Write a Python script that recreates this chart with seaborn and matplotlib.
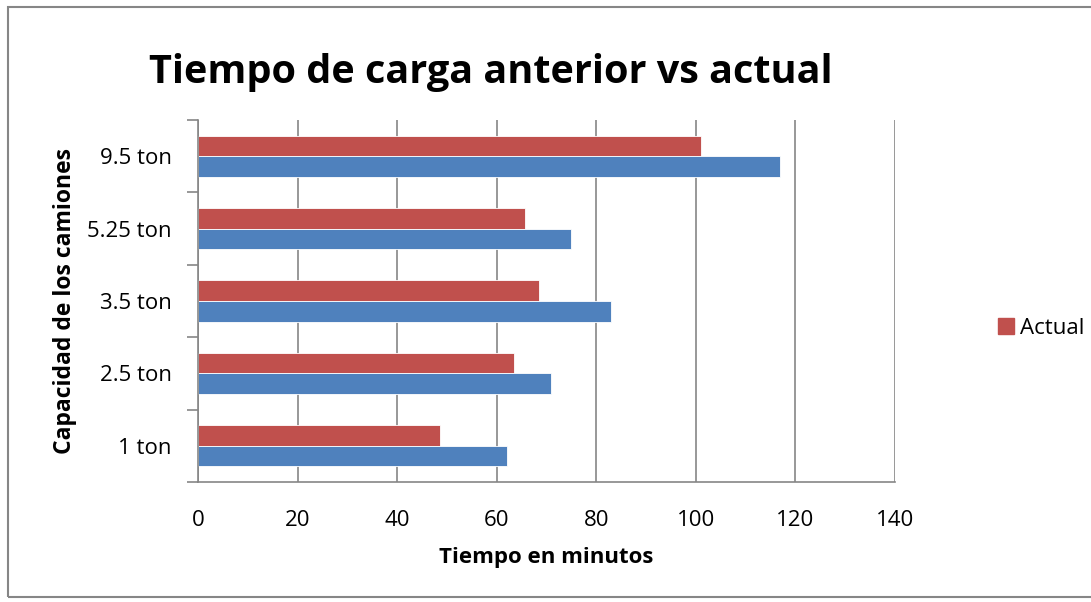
import matplotlib
matplotlib.use("Agg")
import matplotlib.pyplot as plt
import matplotlib.patches as mpatches
import seaborn as sns
import pandas as pd

# Data
capacidades = ["9.5 ton", "5.25 ton", "3.5 ton", "2.5 ton", "1 ton"]
tiempo_actual = [101, 65.6, 68.5, 63.4, 48.6]
tiempo_anterior = [117, 75, 83, 71, 62]
series = ["Actual", "Anterior"]
colores = {"Actual": "#C0504D", "Anterior": "#4F81BD"}
x_ticks = [0, 20, 40, 60, 80, 100, 120, 140]

df = pd.DataFrame({
    "Capacidad": capacidades * 2,
    "Tiempo": tiempo_actual + tiempo_anterior,
    "Serie": [series[0]] * len(capacidades) + [series[1]] * len(capacidades),
})

sns.set_theme(style="white")
plt.rcParams["font.family"] = ["Open Sans", "DejaVu Sans"]
plt.rcParams["text.color"] = "black"
plt.rcParams["axes.labelcolor"] = "black"
plt.rcParams["xtick.color"] = "black"
plt.rcParams["ytick.color"] = "black"

W, H = 1091, 602
fig = plt.figure(figsize=(W / 100, H / 100), dpi=100)
ax = fig.add_axes([198 / W, 1 - 482 / H, (895 - 198) / W, (482 - 120) / H])

sns.barplot(data=df, y="Capacidad", x="Tiempo", hue="Serie", order=capacidades,
            hue_order=series, palette=colores, orient="h", width=0.57,
            gap=0, ax=ax, legend=False, edgecolor="white", linewidth=0.6,
            saturation=1)

ax.set_xlim(0, 140)
ax.set_ylim(len(capacidades) - 0.5, -0.5)
ax.set_xticks(x_ticks)
ax.set_xticklabels([str(t) for t in x_ticks], fontsize=16)
ax.tick_params(axis="x", which="major", length=6, width=1.2, color="#868686",
               labelcolor="black", direction="out", pad=14)

# Category labels at centers, tick marks at category boundaries
ax.set_yticks([i for i in range(len(capacidades))])
ax.set_yticklabels(capacidades, fontsize=16)
ax.tick_params(axis="y", which="major", length=0, pad=19, labelcolor="black")
ax.set_yticks([i - 0.5 for i in range(len(capacidades) + 1)], minor=True)
ax.tick_params(axis="y", which="minor", length=8, width=1.2, color="#868686",
               direction="out", left=True)

ax.grid(axis="x", color="#868686", linewidth=1.2)
ax.grid(axis="y", visible=False)
ax.set_axisbelow(True)
for side in ["top", "right"]:
    ax.spines[side].set_visible(False)
for side in ["left", "bottom"]:
    ax.spines[side].set_color("#868686")
    ax.spines[side].set_linewidth(1.2)

ax.set_xlabel("Tiempo en minutos", fontsize=16, fontweight="bold", labelpad=12)
ax.set_ylabel("Capacidad de los camiones", fontsize=16.5, fontweight="bold",
              labelpad=7)

fig.text(491 / W, 1 - 72 / H, "Tiempo de carga anterior vs actual",
         fontsize=28.5, fontweight="bold", ha="center", va="center")

# Legend with the "Actual" entry
handle = mpatches.Patch(color=colores["Actual"], label="Actual")
fig.legend(handles=[handle], loc="center left",
           bbox_to_anchor=(998 / W, 1 - 328 / H), frameon=False, fontsize=16,
           handlelength=0.7, handleheight=0.7, handletextpad=0.3,
           borderaxespad=0, borderpad=0)

# Chart border
fig.add_artist(mpatches.Rectangle((8 / W, 1 - 597 / H), 1.2, (597 - 7) / H,
                                  transform=fig.transFigure, fill=False,
                                  edgecolor="#868686", linewidth=1.5))

fig.savefig("out.png", dpi=100)
